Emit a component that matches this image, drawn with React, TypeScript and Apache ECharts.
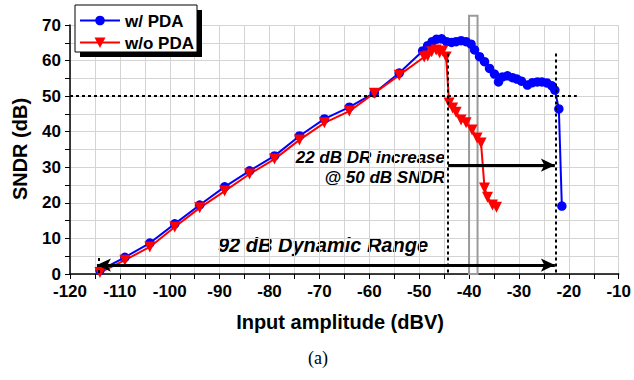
import React, { useEffect, useRef } from "react";
import * as echarts from "echarts";

const xMin = -120;
const xMax = -10;
const yMin = 0;
const yMax = 70;

// w/ PDA : [input amplitude (dBV), SNDR (dB)]
const withPDA: [number, number][] = [
  [-114, 1.0], [-109, 4.7], [-104, 8.7], [-99, 14.1], [-94, 19.4], [-89, 24.5],
  [-84, 29.0], [-79, 33.2], [-74, 38.8], [-69, 43.6], [-64, 46.9], [-59, 50.9],
  [-54, 56.5], [-49.3, 62.7], [-48.3, 64.2], [-47.4, 65.3], [-46.5, 66.0],
  [-45.5, 66.1], [-44.5, 65.3], [-43.5, 65.1], [-42.6, 65.3], [-41.6, 65.6],
  [-40.6, 65.3], [-39.6, 64.6], [-38.9, 63.0], [-37.9, 61.1], [-36.9, 59.7],
  [-35.9, 57.8], [-34.9, 56.2], [-34.1, 54.0], [-33.3, 55.4], [-32.3, 55.7],
  [-31.3, 55.2], [-30.4, 54.8], [-29.5, 54.2], [-28.3, 53.1], [-27.3, 53.8],
  [-26.3, 54.0], [-25.4, 54.0], [-24.4, 53.7], [-23.4, 52.9], [-22.8, 51.7],
  [-22.0, 46.4], [-21.4, 19.1],
];

// w/o PDA
const withoutPDA: [number, number][] = [
  [-114, 0.4], [-109, 3.9], [-104, 7.6], [-99, 13.2], [-94, 18.6], [-89, 23.3],
  [-84, 28.1], [-79, 32.3], [-74, 37.7], [-69, 42.5], [-64, 45.8], [-59, 50.8],
  [-54, 55.9], [-49.0, 61.0], [-48.3, 61.3], [-47.5, 62.5], [-46.6, 63.0],
  [-45.9, 62.2], [-45.3, 62.7], [-44.6, 61.0], [-44.0, 48.1], [-43.3, 46.7],
  [-42.6, 45.5], [-41.6, 43.3], [-40.6, 42.5], [-39.4, 40.5], [-38.4, 38.2],
  [-37.6, 36.8], [-36.9, 24.2], [-36.3, 21.6], [-35.3, 19.4], [-34.5, 18.8],
];

const seriesNames = ["w/ PDA", "w/o PDA"];
const sndrRef = 50;
const drLow = -114.6;
const drHighNoPDA = -44.2;
const drHigh = -22.6;
const drArrowY = 30.6;
const dynArrowY = 2.5;
const boxRange: [number, number] = [-40, -38.3];
const boxTop = 72.6;
const vLineTop = 62;

const FONT = "'Liberation Sans', Arial, Helvetica, sans-serif";

export default function App() {
  const ref = useRef<HTMLDivElement>(null);
  useEffect(() => {
    if (!ref.current) return;
    const chart = echarts.init(ref.current, null, { renderer: "svg" });
    const dotted = { color: "#000", width: 2, type: [3, 3] as any };
    const arrowLine = { color: "#000", width: 3, type: "solid" as any };
    const legendGraphics: any[] = [
      { type: "rect", shape: { x: 80, y: 10, width: 122, height: 47 }, style: { fill: "#000" }, z: 10 },
      {
        type: "rect",
        shape: { x: 75, y: 5, width: 122, height: 47 },
        style: { fill: "#fff", stroke: "#000", lineWidth: 1 },
        z: 11,
      },
      { type: "line", shape: { x1: 80, y1: 20.5, x2: 120, y2: 20.5 }, style: { stroke: "#0000ff", lineWidth: 2 }, z: 12 },
      { type: "circle", shape: { cx: 100, cy: 20.5, r: 4.8 }, style: { fill: "#0000ff" }, z: 12 },
      {
        type: "text",
        x: 125,
        y: 21,
        z: 12,
        style: { text: seriesNames[0], fill: "#000", font: `bold 17px ${FONT}`, textVerticalAlign: "middle" },
      },
      { type: "line", shape: { x1: 80, y1: 42.5, x2: 120, y2: 42.5 }, style: { stroke: "#ff0000", lineWidth: 2 }, z: 12 },
      {
        type: "polygon",
        shape: { points: [[94.5, 37.5], [105.5, 37.5], [100, 48]] },
        style: { fill: "#ff0000" },
        z: 12,
      },
      {
        type: "text",
        x: 125,
        y: 43,
        z: 12,
        style: { text: seriesNames[1], fill: "#000", font: `bold 17px ${FONT}`, textVerticalAlign: "middle" },
      },
    ];
    const textGraphics: any[] = [
      {
        type: "text",
        x: 445,
        y: 157,
        style: {
          text: "22 dB DR increase",
          fill: "#000",
          font: `italic bold 17px ${FONT}`,
          textAlign: "right",
          textVerticalAlign: "middle",
        },
      },
      {
        type: "text",
        x: 445,
        y: 177,
        style: {
          text: "@ 50 dB SNDR",
          fill: "#000",
          font: `italic bold 17px ${FONT}`,
          textAlign: "right",
          textVerticalAlign: "middle",
        },
      },
      {
        type: "text",
        x: 323,
        y: 245,
        style: {
          text: "92 dB Dynamic Range",
          fill: "#000",
          font: `italic bold 20px ${FONT}`,
          textAlign: "center",
          textVerticalAlign: "middle",
        },
      },
      {
        type: "text",
        x: 20,
        y: 149,
        rotation: Math.PI / 2,
        style: {
          text: "SNDR (dB)",
          fill: "#000",
          font: `bold 20px ${FONT}`,
          textAlign: "center",
          textVerticalAlign: "middle",
        },
      },
      {
        type: "text",
        x: 340,
        y: 322,
        style: {
          text: "Input amplitude (dBV)",
          fill: "#000",
          font: `bold 20px ${FONT}`,
          textAlign: "center",
          textVerticalAlign: "middle",
        },
      },
      {
        type: "text",
        x: 318,
        y: 358,
        style: {
          text: "(a)",
          fill: "#000",
          font: `18px 'Liberation Serif', 'Times New Roman', serif`,
          textAlign: "center",
          textVerticalAlign: "middle",
        },
      },
    ];
    chart.setOption({
      animation: false,
      grid: { left: 70, right: 14.5, top: 25, bottom: 106, containLabel: false },
      xAxis: {
        type: "value",
        min: xMin,
        max: xMax,
        interval: 10,
        axisLine: { show: true, onZero: false, lineStyle: { color: "#000", width: 1.5 } },
        axisTick: { show: true, inside: false, length: 5, lineStyle: { color: "#000", width: 1 } },
        minorTick: { show: true, splitNumber: 2, length: 5, lineStyle: { color: "#000", width: 1 } },
        splitLine: { show: true, lineStyle: { color: "#d4d4d4", width: 1 } },
        minorSplitLine: { show: true, lineStyle: { color: "#d4d4d4", width: 1 } },
        axisLabel: { color: "#000", fontFamily: FONT, fontWeight: "bold", fontSize: 17, margin: 9 },
      },
      yAxis: {
        type: "value",
        min: yMin,
        max: yMax,
        interval: 10,
        axisLine: { show: true, onZero: false, lineStyle: { color: "#000", width: 1.5 } },
        axisTick: { show: true, inside: false, length: 5, lineStyle: { color: "#000", width: 1 } },
        minorTick: { show: true, splitNumber: 2, length: 5, lineStyle: { color: "#000", width: 1 } },
        splitLine: { show: true, lineStyle: { color: "#d4d4d4", width: 1 } },
        minorSplitLine: { show: true, lineStyle: { color: "#d4d4d4", width: 1 } },
        axisLabel: { color: "#000", fontFamily: FONT, fontWeight: "bold", fontSize: 17, margin: 9 },
      },
      series: [
        {
          type: "line",
          name: "annotations",
          data: [],
          clip: false,
          silent: true,
          symbol: "none",
          markLine: {
            silent: true,
            symbol: ["none", "none"],
            label: { show: false },
            data: [
              [
                { coord: [xMin, sndrRef], lineStyle: dotted, symbol: "none" },
                { coord: [-18.4, sndrRef], symbol: "none" },
              ],
              [
                { coord: [drHighNoPDA, vLineTop], lineStyle: dotted, symbol: "none" },
                { coord: [drHighNoPDA, yMin], symbol: "none" },
              ],
              [
                { coord: [drHigh, vLineTop], lineStyle: dotted, symbol: "none" },
                { coord: [drHigh, yMin], symbol: "none" },
              ],
              [
                { coord: [drLow + 0.3, 4.5], lineStyle: dotted, symbol: "none" },
                { coord: [drLow + 0.3, yMin], symbol: "none" },
              ],
              [
                { coord: [drHighNoPDA, drArrowY], lineStyle: arrowLine, symbol: "none" },
                { coord: [drHigh - 0.2, drArrowY], symbol: "arrow", symbolSize: [10, 14] },
              ],
              [
                { coord: [drLow, dynArrowY], lineStyle: arrowLine, symbol: "arrow", symbolSize: [10, 14] },
                { coord: [drHigh - 0.2, dynArrowY], symbol: "arrow", symbolSize: [10, 14] },
              ],
            ],
          },
        },
        {
          type: "line",
          name: seriesNames[0],
          data: withPDA,
          symbol: "circle",
          symbolSize: 9.5,
          lineStyle: { color: "#0000ff", width: 2 },
          itemStyle: { color: "#0000ff" },
        },
        {
          type: "line",
          name: seriesNames[1],
          data: withoutPDA,
          symbol: "triangle",
          symbolRotate: 180,
          symbolSize: 11,
          lineStyle: { color: "#ff0000", width: 2 },
          itemStyle: { color: "#ff0000" },
        },
      ],
      graphic: [...textGraphics, ...legendGraphics],
    });
    // gray highlight box, positioned through the chart's own scales
    const p1 = chart.convertToPixel({ gridIndex: 0 }, [boxRange[0], boxTop]) as number[];
    const p2 = chart.convertToPixel({ gridIndex: 0 }, [boxRange[1], yMin]) as number[];
    chart.setOption({
      graphic: [
        ...textGraphics,
        ...legendGraphics,
        {
          type: "rect",
          z: 1,
          shape: { x: p1[0], y: p1[1], width: p2[0] - p1[0], height: p2[1] - p1[1] },
          style: { fill: "none", stroke: "#9a9a9a", lineWidth: 2 },
        },
      ],
    });
    return () => chart.dispose();
  }, []);
  return (
    <div
      ref={ref}
      style={{ position: "fixed", left: 0, top: 0, width: 634, height: 380, background: "#fff" }}
    />
  );
}
